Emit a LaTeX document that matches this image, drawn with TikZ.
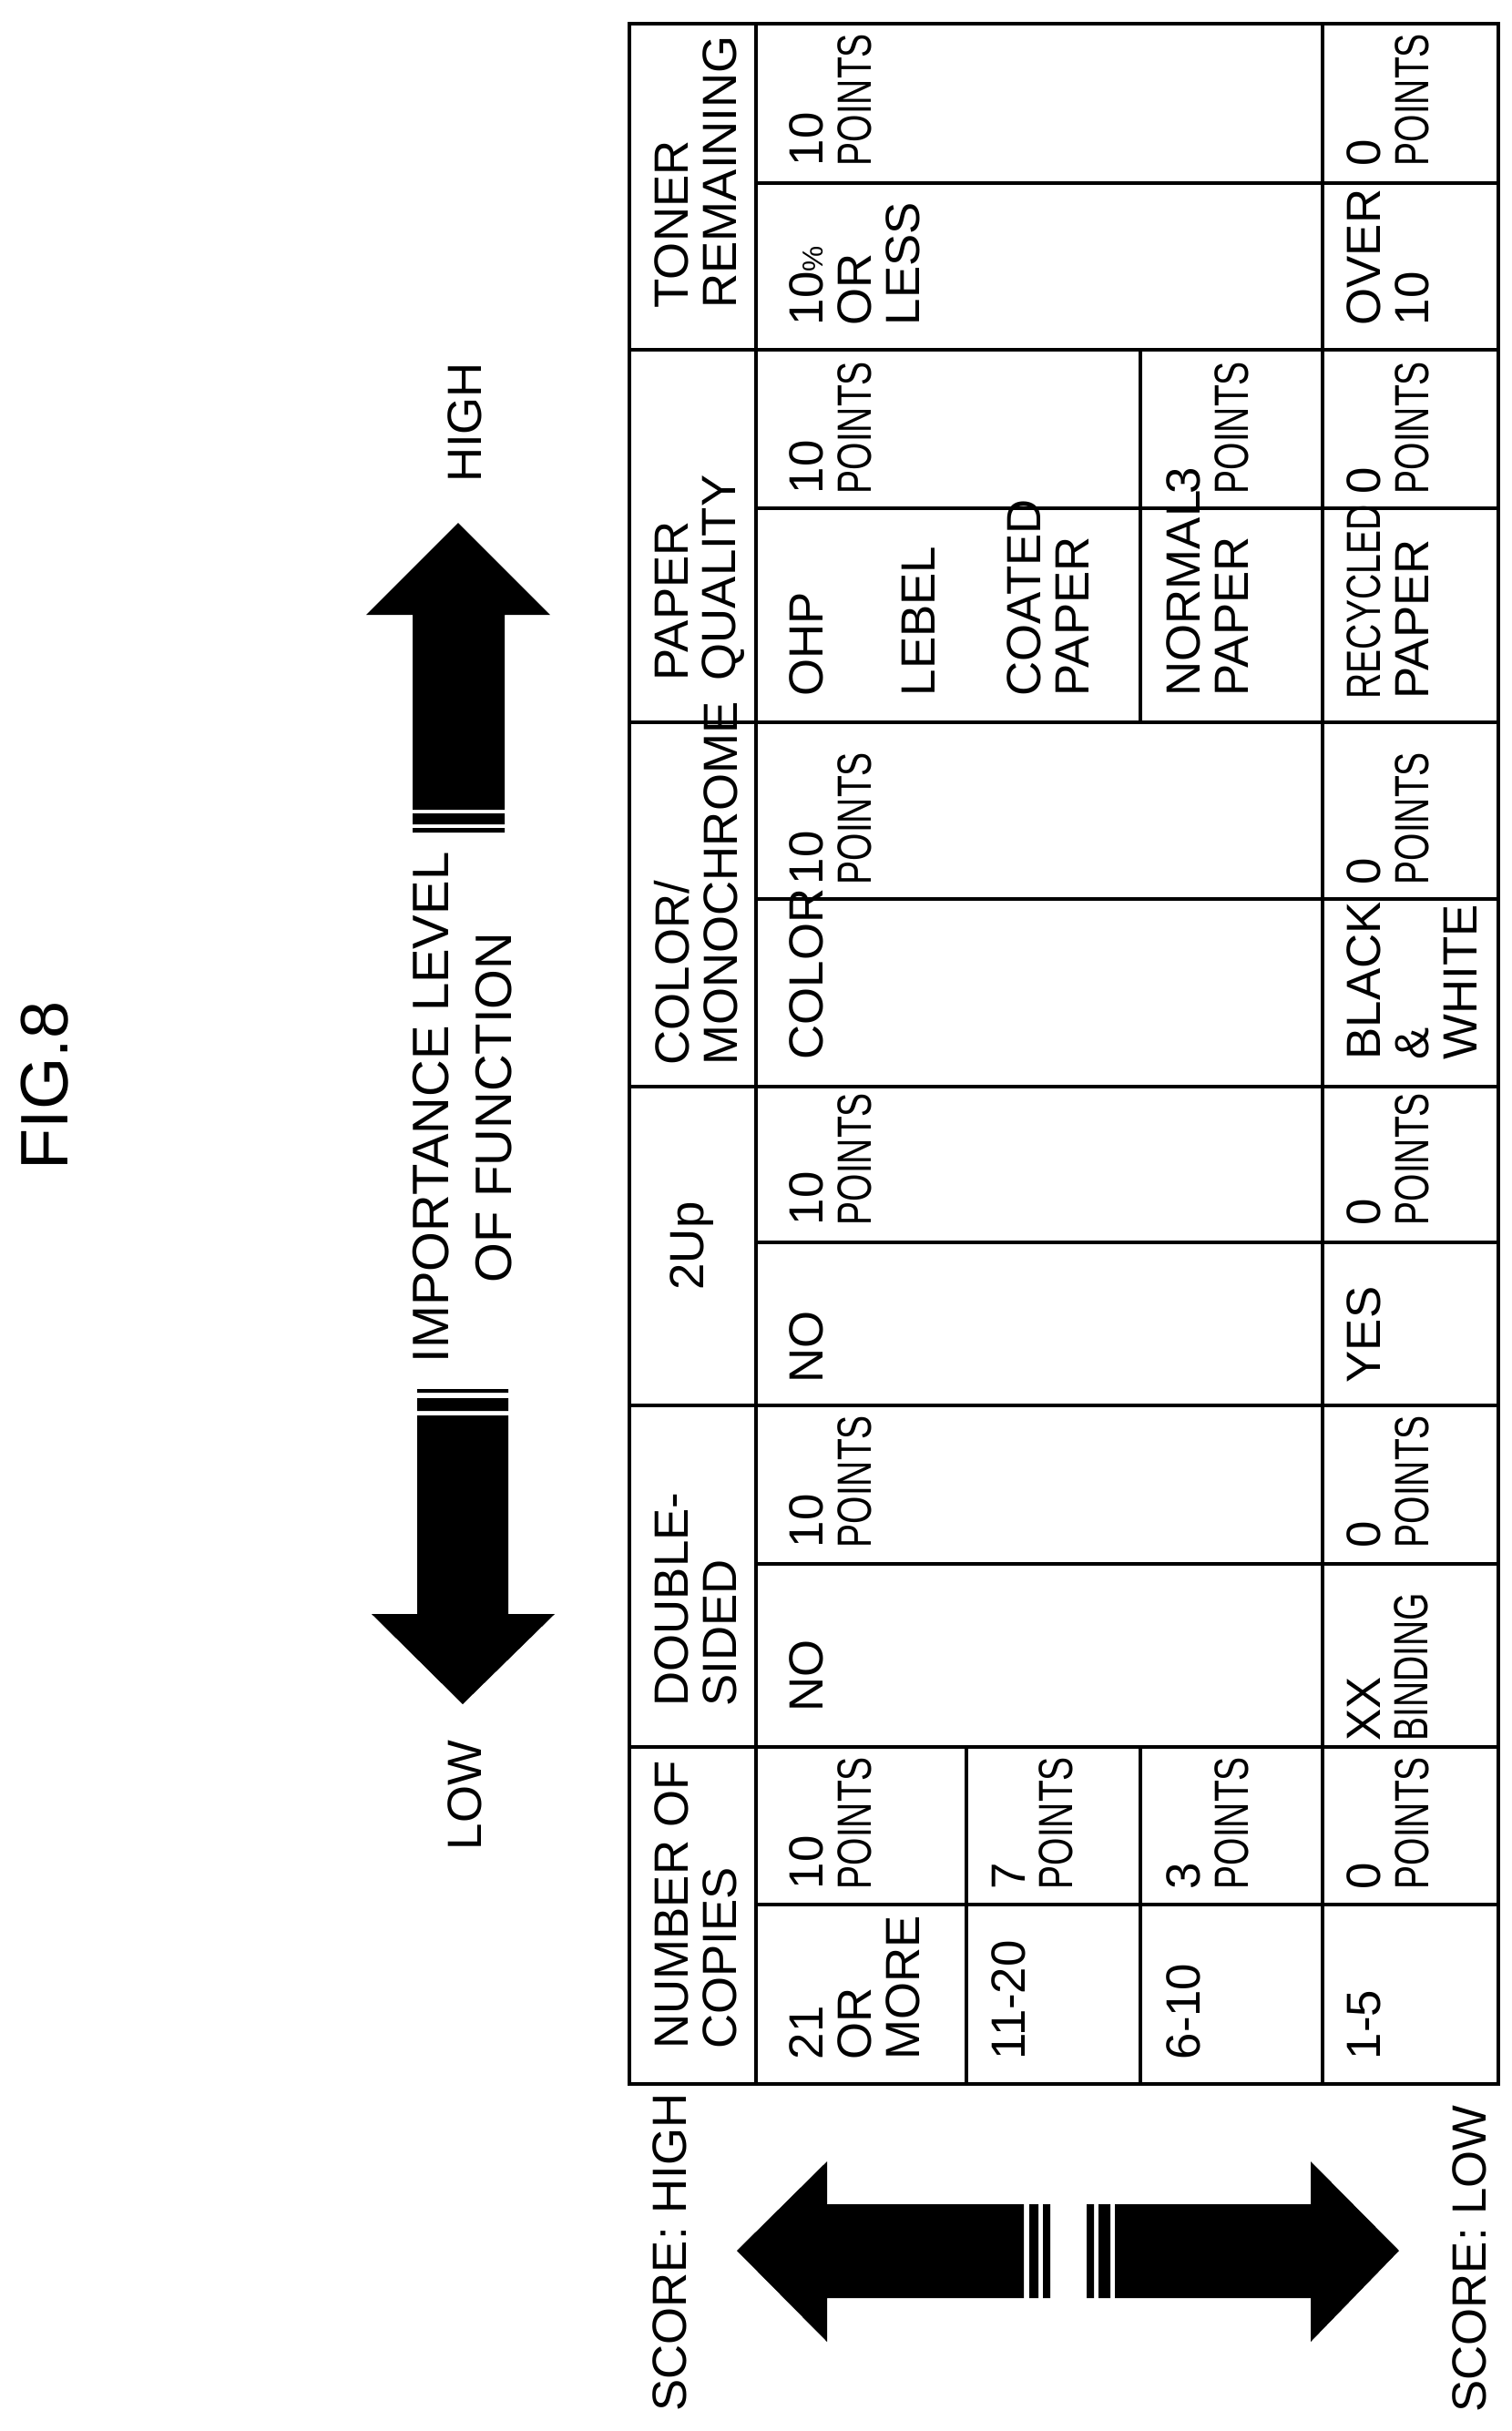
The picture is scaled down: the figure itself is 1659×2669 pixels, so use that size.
\documentclass[tikz,border=0pt]{standalone}
\usepackage{fontspec}
\setmainfont{Liberation Sans}
\newfontfamily\narrowfont[FakeStretch=0.74]{Liberation Sans}
\newcommand{\pts}{{\narrowfont POINTS}}
\usepackage{tikz}
\usetikzlibrary{positioning}

\begin{document}
\begin{tikzpicture}
[x=0.01cm,y=-0.01cm,line cap=rect,
tbl/.style={line width=1pt},
celltext/.style={rotate=90,anchor=north west,inner sep=0pt,align=left,
  font=\fontsize{15}{15}\selectfont},
cellhead/.style={celltext},
bigarrow/.style={fill=black,draw=none}]
\useasboundingbox (0,0) rectangle (1659,2669);
% Title and importance arrow
\node[rotate=90,font=\fontsize{21}{21}\selectfont] (fig) at (49,1192) {FIG.8};
\node[rotate=90,font=\fontsize{15}{15}\selectfont] (high) at (510,464) {HIGH};
\node[rotate=90,font=\fontsize{15}{15}\selectfont] (low) at (510,1971) {LOW};
\node[rotate=90,align=center,font=\fontsize{16}{19.6}\selectfont] (importance) at (508,1216)
  {IMPORTANCE LEVEL\\OF FUNCTION};
\fill[bigarrow] (453,889) -- (453,675) -- (402,675) -- (503,574) -- (604,675) -- (554,675) -- (554,889) -- cycle;
\fill[bigarrow] (453,893) rectangle (554,905) (453,909) rectangle (554,914);
\fill[bigarrow] (458,1554) -- (458,1772) -- (408,1772) -- (508,1871) -- (609,1772) -- (558,1772) -- (558,1554) -- cycle;
\fill[bigarrow] (458,1525) rectangle (558,1529) (458,1535) rectangle (558,1549);
% Score arrow
\node[rotate=90,font=\fontsize{15}{15}\selectfont] (scorehigh) at (735,2473) {SCORE: HIGH};
\node[rotate=90,font=\fontsize{15}{15}\selectfont] (scorelow) at (1613,2480) {SCORE: LOW};
\fill[bigarrow] (1124,2420) -- (908,2420) -- (908,2373) -- (809,2471) -- (908,2571) -- (908,2523) -- (1124,2523) -- cycle;
\fill[bigarrow] (1130,2420) rectangle (1140,2523) (1145,2420) rectangle (1153,2523);
\fill[bigarrow] (1193,2420) rectangle (1201,2523) (1206,2420) rectangle (1219,2523);
\fill[bigarrow] (1224,2420) -- (1439,2420) -- (1439,2373) -- (1536,2471) -- (1439,2571) -- (1439,2523) -- (1224,2523) -- cycle;
% Table grid
\draw[tbl] (691,26) rectangle (1645,2288);
\draw[tbl] (830,26) -- (830,2288);
\draw[tbl] (1452,26) -- (1452,2288);
\foreach \y in {384,793,1193,1543,1918}
  \draw[tbl] (691,\y) -- (1645,\y);
\foreach \y in {201,558,987,1364,1717,2091}
  \draw[tbl] (830,\y) -- (1645,\y);
\draw[tbl] (1252,384) -- (1252,793);
\draw[tbl] (1061,1918) -- (1061,2288) (1252,1918) -- (1252,2288);
% Headers
\node[cellhead] (hToner) at (718,339) {TONER\\REMAINING};
\node[cellhead] (hPaper) at (718,748) {PAPER\\QUALITY};
\node[cellhead] (hColor) at (718,1170) {COLOR/\\MONOCHROME};
\node[rotate=90,inner sep=0pt,font=\fontsize{15}{15}\selectfont] (hTwoUp) at (760,1368) {2Up};
\node[cellhead] (hDouble) at (718,1874) {DOUBLE-\\SIDED};
\node[cellhead] (hCopies) at (718,2250) {NUMBER OF\\COPIES};
% Toner remaining
\node[celltext] (tLess) at (866,358) {10{\small\%}\\OR\\LESS};
\node[celltext] (tLessP) at (866,183) {10\\\pts};
\node[celltext] (tOver) at (1478,358) {OVER\\10};
\node[celltext] (tOverP) at (1478,183) {0\\\pts};
% Paper quality
\node[celltext] (pHigh) at (866,765) {OHP\\[20pt]LEBEL\\[18pt]COATED\\PAPER};
\node[celltext] (pHighP) at (866,543) {10\\\pts};
\node[celltext] (pNormal) at (1280,765) {NORMAL\\PAPER};
\node[celltext] (pNormalP) at (1280,543) {3\\\pts};
\node[celltext] (pRecycled) at (1478,768) {{\narrowfont RECYCLED}\\PAPER};
\node[celltext] (pRecycledP) at (1478,543) {0\\\pts};
% Color / monochrome
\node[celltext] (cColor) at (866,1164) {COLOR};
\node[celltext] (cColorP) at (866,972) {10\\\pts};
\node[celltext] (cBW) at (1478,1164) {BLACK\\\&\\WHITE};
\node[celltext] (cBWP) at (1478,972) {0\\\pts};
% 2Up
\node[celltext] (uNo) at (866,1519) {NO};
\node[celltext] (uNoP) at (866,1346) {10\\\pts};
\node[celltext] (uYes) at (1478,1519) {YES};
\node[celltext] (uYesP) at (1478,1346) {0\\\pts};
% Double-sided
\node[celltext] (dNo) at (866,1880) {NO};
\node[celltext] (dNoP) at (866,1700) {10\\\pts};
\node[celltext] (dBind) at (1478,1912) {XX\\{\narrowfont BINDING}};
\node[celltext] (dBindP) at (1478,1700) {0\\\pts};
% Number of copies
\node[celltext] (nMore) at (866,2262) {21\\OR\\MORE};
\node[celltext] (nMoreP) at (866,2075) {10\\\pts};
\node[celltext] (nMid) at (1088,2262) {11-20};
\node[celltext] (nMidP) at (1088,2075) {7\\\pts};
\node[celltext] (nFew) at (1280,2262) {6-10};
\node[celltext] (nFewP) at (1280,2075) {3\\\pts};
\node[celltext] (nMin) at (1478,2262) {1-5};
\node[celltext] (nMinP) at (1478,2075) {0\\\pts};
\end{tikzpicture}
\end{document}
